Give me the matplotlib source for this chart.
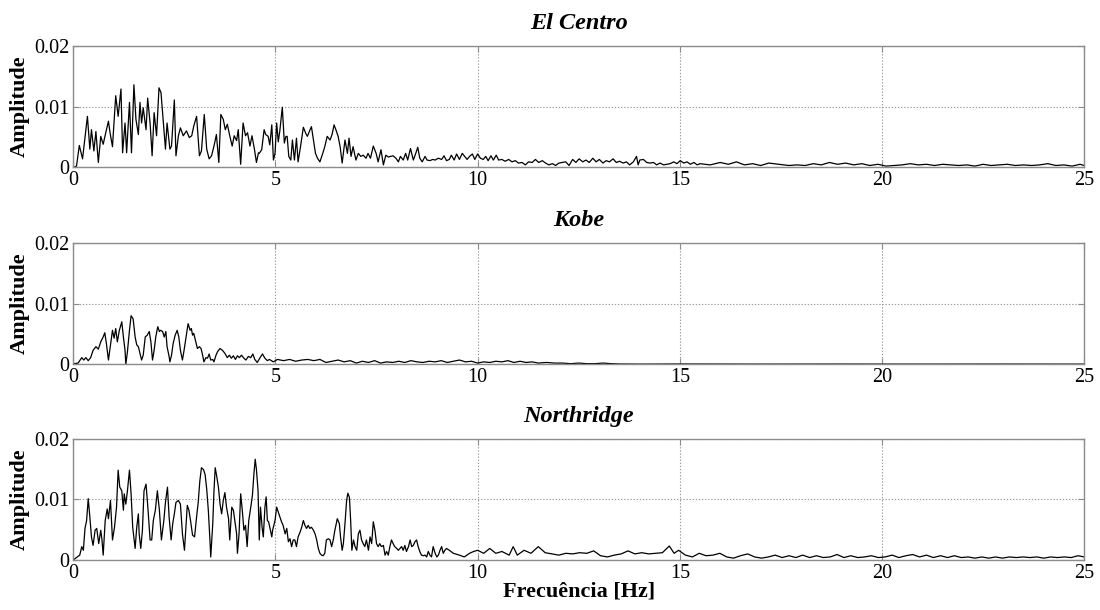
"""Fourier amplitude spectra of three ground motion records (El Centro, Kobe, Northridge)."""

import matplotlib

matplotlib.use("Agg")
import matplotlib.pyplot as plt

plt.rcParams["font.family"] = ["Liberation Serif", "DejaVu Serif"]

# ---- El Centro -----------------------------------------------------------
elcentro_freq = [
    0.00, 0.02, 0.08, 0.15, 0.23, 0.35, 0.41, 0.45, 0.51, 0.56, 0.62, 0.68, 0.74, 0.81,
    0.87, 0.91, 0.97, 1.05, 1.11, 1.18, 1.22, 1.28, 1.32, 1.39, 1.44, 1.50, 1.55, 1.61,
    1.65, 1.69, 1.73, 1.80, 1.84, 1.90, 1.95, 2.00, 2.06, 2.12, 2.17, 2.23, 2.28, 2.32,
    2.39, 2.43, 2.50, 2.54, 2.60, 2.65, 2.72, 2.80, 2.87, 2.93, 2.98, 3.05, 3.12, 3.17,
    3.24, 3.30, 3.36, 3.42, 3.48, 3.54, 3.60, 3.65, 3.71, 3.76, 3.81, 3.87, 3.93, 3.98,
    4.04, 4.08, 4.14, 4.20, 4.26, 4.31, 4.37, 4.42, 4.48, 4.53, 4.58,
    4.60, 4.66, 4.72, 4.76, 4.82, 4.86, 4.91, 4.95, 4.99, 5.03, 5.07, 5.11, 5.17, 5.22,
    5.26, 5.29, 5.33, 5.38, 5.42, 5.47, 5.52, 5.56, 5.62, 5.69, 5.75, 5.79, 5.85, 5.89,
    5.94, 5.99, 6.04, 6.10, 6.17, 6.22, 6.28, 6.35, 6.40, 6.45, 6.50, 6.55, 6.60, 6.65,
    6.72, 6.78, 6.82, 6.87, 6.92, 6.99, 7.05, 7.11, 7.17, 7.24, 7.29, 7.35, 7.42, 7.49,
    7.54, 7.61, 7.67, 7.73, 7.79, 7.85, 7.91, 7.98, 8.04, 8.09, 8.16, 8.22, 8.27, 8.34,
    8.41, 8.47, 8.52, 8.57, 8.63, 8.70, 8.75, 8.82, 8.89, 8.95, 9.03, 9.11, 9.17, 9.23,
    9.30, 9.35, 9.42, 9.48, 9.55, 9.62, 9.68, 9.74, 9.80, 9.87, 9.93, 10.00, 10.07,
    10.14, 10.20, 10.26, 10.33, 10.39, 10.46, 10.52, 10.60, 10.68, 10.77, 10.85, 10.93,
    11.01, 11.10, 11.18, 11.26, 11.35, 11.43, 11.51, 11.60, 11.68, 11.76, 11.85, 11.93,
    12.01, 12.10, 12.18, 12.26, 12.35, 12.43, 12.51, 12.60, 12.68, 12.76, 12.85, 12.93,
    13.01, 13.10, 13.18, 13.26, 13.35, 13.43, 13.51, 13.60, 13.68, 13.76, 13.85, 13.93,
    13.97, 14.01, 14.10, 14.18, 14.26, 14.35, 14.43, 14.51, 14.60, 14.68, 14.76, 14.85,
    14.93, 15.01, 15.10, 15.18, 15.26, 15.35, 15.43, 15.50, 15.75, 16.00, 16.20, 16.40,
    16.60, 16.80, 17.00, 17.20, 17.45, 17.70, 17.90, 18.10, 18.30, 18.50, 18.70, 18.90,
    19.10, 19.30, 19.50, 19.70, 19.90, 20.10, 20.30, 20.50, 20.70, 20.90, 21.10, 21.30,
    21.50, 21.70, 21.90, 22.10, 22.30, 22.50, 22.70, 22.90, 23.10, 23.30, 23.50, 23.70,
    23.90, 24.10, 24.30, 24.50, 24.70, 24.90, 25.00,
]
elcentro_amp = [
    0.0000, 0.0000, 0.0002, 0.0036, 0.0014, 0.0084, 0.0030, 0.0062, 0.0027, 0.0059, 0.0008,
    0.0051, 0.0038, 0.0059, 0.0076, 0.0057, 0.0034, 0.0118, 0.0084, 0.0129, 0.0024, 0.0073,
    0.0024, 0.0107, 0.0024, 0.0136, 0.0079, 0.0054, 0.0107, 0.0073, 0.0098, 0.0062, 0.0114,
    0.0073, 0.0019, 0.0090, 0.0052, 0.0131, 0.0123, 0.0073, 0.0030, 0.0073, 0.0030, 0.0035,
    0.0111, 0.0019, 0.0052, 0.0065, 0.0052, 0.0060, 0.0049, 0.0052, 0.0068, 0.0084, 0.0019,
    0.0027, 0.0087, 0.0030, 0.0014, 0.0019, 0.0035, 0.0054, 0.0008, 0.0087, 0.0079, 0.0062,
    0.0071, 0.0052, 0.0035, 0.0052, 0.0044, 0.0062, 0.0005, 0.0073, 0.0052, 0.0057, 0.0035,
    0.0052, 0.0030, 0.0008, 0.0024,
    0.0023, 0.0029, 0.0062, 0.0054, 0.0051, 0.0037, 0.0070, 0.0012, 0.0023, 0.0073, 0.0042,
    0.0061, 0.0099, 0.0040, 0.0051, 0.0051, 0.0018, 0.0012, 0.0045, 0.0012, 0.0048, 0.0009,
    0.0034, 0.0066, 0.0056, 0.0051, 0.0061, 0.0067, 0.0045, 0.0023, 0.0015, 0.0009, 0.0023,
    0.0034, 0.0051, 0.0045, 0.0054, 0.0070, 0.0061, 0.0051, 0.0034, 0.0007, 0.0045, 0.0023,
    0.0048, 0.0018, 0.0034, 0.0012, 0.0023, 0.0018, 0.0020, 0.0015, 0.0023, 0.0015, 0.0035,
    0.0023, 0.0009, 0.0029, 0.0004, 0.0020, 0.0017, 0.0018, 0.0019, 0.0015, 0.0009, 0.0018,
    0.0012, 0.0023, 0.0012, 0.0031, 0.0012, 0.0023, 0.0033, 0.0015, 0.0009, 0.0018, 0.0012,
    0.0011, 0.0013, 0.0012, 0.0015, 0.0013, 0.0019, 0.0011, 0.0013,
    0.0020, 0.0012, 0.0022, 0.0013, 0.0023, 0.0018, 0.0013, 0.0018, 0.0022, 0.0013, 0.0022,
    0.0015, 0.0013, 0.0018, 0.0011, 0.0019, 0.0012, 0.0020, 0.0012, 0.0013, 0.0010, 0.0013,
    0.0009, 0.0011, 0.0007, 0.0008, 0.0004, 0.0009, 0.0008, 0.0013, 0.0008, 0.0011, 0.0007,
    0.0004, 0.0006, 0.0003, 0.0007, 0.0008, 0.0009, 0.0003, 0.0013, 0.0008, 0.0014, 0.0009,
    0.0012, 0.0008, 0.0015, 0.0009, 0.0013, 0.0007, 0.0011, 0.0009, 0.0014, 0.0008, 0.0010,
    0.0007, 0.0009, 0.0004, 0.0009, 0.0018, 0.0004, 0.0012, 0.0013, 0.0008, 0.0007, 0.0008,
    0.0004, 0.0007, 0.0004, 0.0005, 0.0006, 0.0009, 0.0006, 0.0011, 0.0007, 0.0009, 0.0005,
    0.0008, 0.0004, 0.0006, 0.0004, 0.0008, 0.0005, 0.0009, 0.0004, 0.0006, 0.0003, 0.0007,
    0.0005, 0.0003, 0.0004, 0.0003, 0.0006, 0.0004, 0.0008, 0.0005, 0.0007, 0.0004, 0.0006,
    0.0003, 0.0005, 0.0002, 0.0003, 0.0004, 0.0006, 0.0004, 0.0005, 0.0003, 0.0005, 0.0004,
    0.0003, 0.0004, 0.0002, 0.0005, 0.0003, 0.0004, 0.0005, 0.0003, 0.0004, 0.0003, 0.0004,
    0.0006, 0.0003, 0.0004, 0.0002, 0.0005, 0.0003,
]

# ---- Kobe ----------------------------------------------------------------
kobe_freq = [
    0.00, 0.02, 0.12, 0.21, 0.26, 0.31, 0.37, 0.43, 0.49, 0.56, 0.62, 0.68, 0.74, 0.78,
    0.82, 0.87, 0.92, 0.97, 1.01, 1.05, 1.09, 1.14, 1.20, 1.24, 1.28, 1.30, 1.34, 1.39,
    1.43, 1.48, 1.53, 1.57, 1.61, 1.65, 1.69, 1.73, 1.78, 1.83, 1.88, 1.92, 1.96, 2.00,
    2.04, 2.09, 2.13, 2.16, 2.21, 2.25, 2.29, 2.32, 2.37, 2.39, 2.43, 2.47, 2.52, 2.57,
    2.61, 2.65, 2.70, 2.74, 2.79, 2.84, 2.89, 2.92, 2.95, 2.98, 3.03, 3.07, 3.12, 3.16,
    3.20, 3.23, 3.28, 3.32, 3.36, 3.40, 3.45, 3.48, 3.53, 3.57, 3.63, 3.69, 3.75, 3.81,
    3.86, 3.91, 3.96, 4.01, 4.06, 4.11, 4.16, 4.22, 4.27, 4.33, 4.39, 4.44, 4.49, 4.55,
    4.62, 4.68, 4.74, 4.80, 4.85, 4.95, 5.05, 5.20, 5.35, 5.50, 5.65, 5.80, 5.95, 6.10,
    6.25, 6.40, 6.55, 6.70, 6.85, 7.00, 7.15, 7.30, 7.45, 7.60, 7.75, 7.90, 8.05, 8.20,
    8.35, 8.50, 8.65, 8.80, 8.95, 9.10, 9.25, 9.40, 9.55, 9.70, 9.85, 10.00, 10.15, 10.30,
    10.45, 10.60, 10.75, 10.90, 11.05, 11.20, 11.35, 11.50, 11.70, 11.90, 12.10, 12.30,
    12.50, 12.70, 12.90, 13.10, 13.30, 13.50, 14.00, 15.00, 17.00, 19.00, 21.00, 23.00,
    25.00,
]
kobe_amp = [
    0.0000, 0.0001, 0.0002, 0.0011, 0.0007, 0.0011, 0.0006, 0.0011, 0.0023, 0.0029, 0.0025,
    0.0037, 0.0045, 0.0052, 0.0034, 0.0007, 0.0032, 0.0056, 0.0043, 0.0059, 0.0037, 0.0056,
    0.0070, 0.0045, 0.0023, 0.0000, 0.0021, 0.0056, 0.0080, 0.0075, 0.0045, 0.0032, 0.0029,
    0.0018, 0.0007, 0.0015, 0.0045, 0.0048, 0.0054, 0.0037, 0.0007, 0.0023, 0.0045, 0.0062,
    0.0054, 0.0056, 0.0054, 0.0045, 0.0054, 0.0029, 0.0013, 0.0004, 0.0015, 0.0034, 0.0048,
    0.0056, 0.0045, 0.0023, 0.0007, 0.0023, 0.0045, 0.0067, 0.0056, 0.0059, 0.0048, 0.0051,
    0.0037, 0.0026, 0.0029, 0.0026, 0.0015, 0.0004, 0.0011, 0.0010, 0.0017, 0.0007, 0.0008,
    0.0004, 0.0015, 0.0021, 0.0026, 0.0023, 0.0018, 0.0011, 0.0015, 0.0010, 0.0014, 0.0008,
    0.0014, 0.0011, 0.0015, 0.0010, 0.0007, 0.0013, 0.0011, 0.0017, 0.0008, 0.0003, 0.0011,
    0.0017, 0.0010, 0.0006, 0.0008, 0.0004, 0.0008, 0.0006, 0.0008, 0.0005, 0.0007, 0.0008,
    0.0006, 0.0008, 0.0003, 0.0005, 0.0007, 0.0004, 0.0006, 0.0002, 0.0005, 0.0003, 0.0006,
    0.0002, 0.0004, 0.0003, 0.0005, 0.0003, 0.0006, 0.0004, 0.0003, 0.0005, 0.0004, 0.0006,
    0.0003, 0.0005, 0.0007, 0.0004, 0.0005, 0.0002, 0.0004, 0.0003, 0.0005, 0.0004, 0.0006,
    0.0003, 0.0005, 0.0003, 0.0004, 0.0002, 0.0003, 0.0002, 0.0002, 0.0001, 0.0002, 0.0001,
    0.0001, 0.0002, 0.0001, 0.00005, 0.00003, 0.00005, 0.00003, 0.00004, 0.00003, 0.00004,
    0.00003,
]

# ---- Northridge ----------------------------------------------------------
northridge_freq = [
    0.00, 0.02, 0.10, 0.16, 0.21, 0.25, 0.29, 0.33, 0.37, 0.41, 0.45, 0.49, 0.54, 0.58,
    0.63, 0.68, 0.71, 0.74, 0.79, 0.84, 0.87, 0.92, 0.97, 1.02, 1.07, 1.11, 1.15, 1.20,
    1.24, 1.26, 1.30, 1.34, 1.39, 1.43, 1.47, 1.53, 1.57, 1.61, 1.63, 1.67, 1.71, 1.75,
    1.80, 1.85, 1.90, 1.94, 1.98, 2.03, 2.08, 2.13, 2.18, 2.24, 2.28, 2.33, 2.37, 2.42,
    2.46, 2.50, 2.54, 2.60, 2.65, 2.70, 2.75, 2.79, 2.82, 2.86, 2.90, 2.95, 3.00, 3.05,
    3.09, 3.13, 3.17, 3.22, 3.26, 3.30, 3.34, 3.38, 3.40, 3.45, 3.48, 3.51, 3.54, 3.59,
    3.63, 3.67, 3.71, 3.75, 3.79, 3.84, 3.87, 3.92, 3.96, 4.00, 4.04, 4.06, 4.10, 4.14,
    4.18, 4.22, 4.26, 4.30, 4.34, 4.39, 4.43, 4.47, 4.50, 4.53, 4.57,
    4.60, 4.63, 4.67, 4.70, 4.74, 4.77, 4.80, 4.83, 4.86, 4.91, 4.93, 4.99, 5.03, 5.07,
    5.11, 5.15, 5.19, 5.24, 5.28, 5.32, 5.36, 5.40, 5.44, 5.48, 5.52, 5.56, 5.61, 5.65,
    5.69, 5.73, 5.77, 5.81, 5.85, 5.89, 5.94, 5.98, 6.02, 6.06, 6.10, 6.14, 6.18, 6.22,
    6.26, 6.31, 6.35, 6.39, 6.43, 6.47, 6.53, 6.58, 6.61, 6.65, 6.68, 6.72, 6.76, 6.79,
    6.83, 6.86, 6.89, 6.93, 6.97, 7.01, 7.05, 7.09, 7.13, 7.17, 7.21, 7.25, 7.30, 7.34,
    7.38, 7.42, 7.46, 7.50, 7.54, 7.58, 7.62, 7.67, 7.71, 7.75, 7.79, 7.83, 7.87, 7.91,
    7.95, 8.00, 8.04, 8.08, 8.12, 8.16, 8.20, 8.24, 8.29, 8.33, 8.37, 8.41, 8.45, 8.49,
    8.53, 8.57, 8.61, 8.66, 8.70, 8.74, 8.78, 8.82, 8.86, 8.90, 8.95, 8.99, 9.03, 9.07,
    9.11, 9.15, 9.19, 9.23, 9.30,
    9.40, 9.55, 9.67, 9.80, 9.90, 10.00, 10.15, 10.30, 10.45, 10.60, 10.78, 10.88, 10.98,
    11.15, 11.32, 11.50, 11.67, 11.84, 12.01, 12.18, 12.35, 12.52, 12.70, 12.87, 13.04,
    13.21, 13.38, 13.55, 13.72, 13.89, 14.06, 14.23, 14.40, 14.57, 14.74, 14.86, 14.97,
    15.14, 15.31, 15.48, 15.65, 15.82, 15.99, 16.16, 16.33, 16.50, 16.68, 16.85, 17.02,
    17.19, 17.36, 17.53, 17.70, 17.87, 18.04, 18.21, 18.38, 18.55, 18.72, 18.89, 19.06,
    19.23, 19.40, 19.57, 19.74, 19.91, 20.08, 20.25, 20.42, 20.59, 20.76, 20.93, 21.10,
    21.27, 21.45, 21.62, 21.79, 21.96, 22.13, 22.30, 22.47, 22.64, 22.81, 22.98, 23.15,
    23.32, 23.49, 23.66, 23.83, 24.00, 24.17, 24.34, 24.51, 24.68, 24.85, 25.00,
]
northridge_amp = [
    0.0000, 0.0001, 0.0005, 0.0008, 0.0022, 0.0016, 0.0052, 0.0065, 0.0101, 0.0071, 0.0038,
    0.0024, 0.0049, 0.0052, 0.0027, 0.0049, 0.0033, 0.0008, 0.0065, 0.0084, 0.0068, 0.0098,
    0.0033, 0.0054, 0.0087, 0.0148, 0.0120, 0.0114, 0.0082, 0.0109, 0.0092, 0.0114, 0.0148,
    0.0109, 0.0054, 0.0019, 0.0054, 0.0076, 0.0043, 0.0019, 0.0049, 0.0114, 0.0125, 0.0082,
    0.0033, 0.0033, 0.0065, 0.0082, 0.0114, 0.0082, 0.0033, 0.0065, 0.0095, 0.0120, 0.0071,
    0.0033, 0.0060, 0.0076, 0.0095, 0.0098, 0.0092, 0.0043, 0.0016, 0.0060, 0.0090, 0.0082,
    0.0065, 0.0041, 0.0038, 0.0071, 0.0095, 0.0130, 0.0152, 0.0149, 0.0141, 0.0117, 0.0082,
    0.0033, 0.0005, 0.0060, 0.0114, 0.0152, 0.0141, 0.0120, 0.0092, 0.0076, 0.0098, 0.0111,
    0.0087, 0.0068, 0.0033, 0.0087, 0.0082, 0.0063, 0.0043, 0.0011, 0.0043, 0.0109, 0.0082,
    0.0049, 0.0057, 0.0022, 0.0065, 0.0087, 0.0106, 0.0144, 0.0166, 0.0149, 0.0114,
    0.0033, 0.0087, 0.0054, 0.0038, 0.0087, 0.0104, 0.0065, 0.0063, 0.0054, 0.0038, 0.0049,
    0.0065, 0.0087, 0.0079, 0.0071, 0.0063, 0.0057, 0.0043, 0.0052, 0.0030, 0.0035, 0.0022,
    0.0033, 0.0033, 0.0022, 0.0038, 0.0046, 0.0054, 0.0065, 0.0057, 0.0052, 0.0057, 0.0052,
    0.0054, 0.0049, 0.0043, 0.0033, 0.0019, 0.0011, 0.0008, 0.0007, 0.0011, 0.0033, 0.0035,
    0.0033, 0.0022, 0.0033, 0.0049, 0.0068, 0.0060, 0.0038, 0.0016, 0.0027, 0.0060, 0.0098,
    0.0110, 0.0103, 0.0065, 0.0016, 0.0033, 0.0022, 0.0016, 0.0043, 0.0049, 0.0033, 0.0027,
    0.0022, 0.0033, 0.0016, 0.0038, 0.0027, 0.0063, 0.0049, 0.0027, 0.0022, 0.0027, 0.0022,
    0.0024, 0.0008, 0.0014, 0.0008, 0.0022, 0.0033, 0.0027, 0.0022, 0.0019, 0.0016, 0.0019,
    0.0022, 0.0016, 0.0024, 0.0014, 0.0022, 0.0033, 0.0022, 0.0024, 0.0030, 0.0033, 0.0022,
    0.0014, 0.0008, 0.0007, 0.0008, 0.0005, 0.0014, 0.0008, 0.0005, 0.0022, 0.0011, 0.0005,
    0.0008, 0.0016, 0.0022, 0.0011, 0.0016, 0.0019, 0.0016,
    0.0011, 0.0008, 0.0005, 0.0011, 0.0014, 0.0016, 0.0011, 0.0019, 0.0011, 0.0014, 0.0008,
    0.0022, 0.0008, 0.0016, 0.0011, 0.0022, 0.0012, 0.0010, 0.0008, 0.0011, 0.0010, 0.0012,
    0.0011, 0.0015, 0.0007, 0.0005, 0.0008, 0.0010, 0.0015, 0.0010, 0.0012, 0.0010, 0.0011,
    0.0012, 0.0023, 0.0011, 0.0016, 0.0008, 0.0005, 0.0011, 0.0007, 0.0008, 0.0011, 0.0005,
    0.0003, 0.0007, 0.0010, 0.0005, 0.0003, 0.0005, 0.0008, 0.0004, 0.0007, 0.0004, 0.0008,
    0.0004, 0.0007, 0.0004, 0.0005, 0.0009, 0.0004, 0.0007, 0.0004, 0.0005, 0.0007, 0.0004,
    0.0005, 0.0008, 0.0004, 0.0007, 0.0009, 0.0005, 0.0008, 0.0004, 0.0007, 0.0004, 0.0007,
    0.0004, 0.0005, 0.0003, 0.0005, 0.0003, 0.0005, 0.0003, 0.0005, 0.0004, 0.0005, 0.0004,
    0.0005, 0.0003, 0.0005, 0.0004, 0.0005, 0.0004, 0.0007, 0.0005,
]

RECORDS = [
    ("El Centro", elcentro_freq, elcentro_amp),
    ("Kobe", kobe_freq, kobe_amp),
    ("Northridge", northridge_freq, northridge_amp),
]

X_TICKS = [0, 5, 10, 15, 20, 25]
Y_TICKS = [0, 0.01, 0.02]
Y_TICK_LABELS = ["0", "0.01", "0.02"]

# axes boxes in figure fraction: left, bottom, width, height
AX_LEFT, AX_WIDTH, AX_HEIGHT = 0.0666, 0.919, 0.199
AX_BOTTOMS = [0.7257, 0.4028, 0.0820]

SPINE_GREY = "#8c8c8c"


def main() -> None:
    fig = plt.figure(figsize=(11.0, 6.1), dpi=100)

    for i, (name, freq, amp) in enumerate(RECORDS):
        ax = fig.add_axes([AX_LEFT, AX_BOTTOMS[i], AX_WIDTH, AX_HEIGHT])
        ax.plot(freq, amp, color="black", linewidth=0.9)
        ax.set_xlim(0, 25)
        ax.set_ylim(0, 0.02)
        ax.set_xticks(X_TICKS)
        ax.set_yticks(Y_TICKS)
        ax.set_yticklabels(Y_TICK_LABELS)
        ax.grid(True, color="#9a9a9a", linestyle=(0, (1.2, 1.6)), linewidth=0.8)
        ax.set_axisbelow(True)
        for spine in ax.spines.values():
            spine.set_color(SPINE_GREY)
            spine.set_linewidth(1.0)
        ax.tick_params(direction="in", length=4, width=0.8, color=SPINE_GREY,
                       top=True, right=True, labelsize=14.5, pad=3)
        ax.set_ylabel("Amplitude", fontsize=16, fontweight="bold", labelpad=3)
        ax.set_title(name, fontsize=17.5, fontweight="bold", style="italic", pad=12)
        if i == len(RECORDS) - 1:
            ax.set_xlabel("Frecuência [Hz]", fontsize=16, fontweight="bold", labelpad=-1)

    fig.savefig("out.png", dpi=100)


if __name__ == "__main__":
    main()
